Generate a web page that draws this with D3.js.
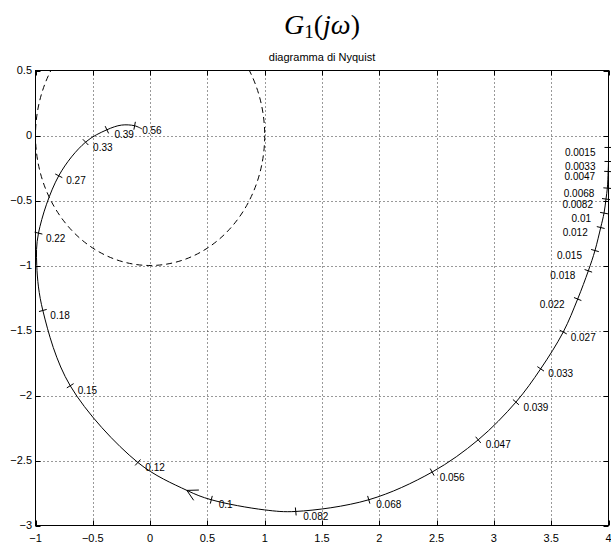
<!DOCTYPE html>
<html lang="it">
<head>
<meta charset="UTF-8">
<title>G1(jw) - diagramma di Nyquist</title>
<script src="https://cdnjs.cloudflare.com/ajax/libs/d3/7.8.5/d3.min.js"></script>
<style>
  body { margin: 0; background: #fff; }
</style>
</head>
<body>
<div id="chart"></div>
<script>
    var width = 611;
    var height = 543;

    // axis ticks
    var xTicks = [-1, -0.5, 0, 0.5, 1, 1.5, 2, 2.5, 3, 3.5, 4];
    var xTickLabels = ["\u22121", "\u22120.5", "0", "0.5", "1", "1.5", "2", "2.5", "3", "3.5", "4"];
    var yTicks = [0.5, 0, -0.5, -1, -1.5, -2, -2.5, -3];
    var yTickLabels = ["0.5", "0", "\u22120.5", "\u22121", "\u22121.5", "\u22122", "\u22122.5", "\u22123"];

    // frequency marks
    var omegaLabels = ["0.0015", "0.0033", "0.0047", "0.0068", "0.0082", "0.01", "0.012", "0.015",
                       "0.018", "0.022", "0.027", "0.033", "0.039", "0.047", "0.056", "0.068",
                       "0.082", "0.1", "0.12", "0.15", "0.18", "0.22", "0.27", "0.33", "0.39", "0.56"];
    var omegaRe = [4.0, 4.0, 3.997, 3.99, 3.978, 3.961, 3.932, 3.882,
                   3.824, 3.731, 3.605, 3.408, 3.192, 2.863, 2.461, 1.908,
                   1.271, 0.534, -0.107, -0.697, -0.936, -0.974, -0.797, -0.563, -0.377, -0.135];
    var omegaIm = [-0.092, -0.2, -0.277, -0.405, -0.489, -0.597, -0.708, -0.885,
                   -1.041, -1.258, -1.512, -1.795, -2.051, -2.341, -2.589, -2.802,
                   -2.892, -2.802, -2.515, -1.925, -1.346, -0.751, -0.31, -0.051, 0.044, 0.075];

    // points along the Nyquist curve, in order of increasing frequency
    var curveRe = [4.0, 4.0, 4.0, 3.997, 3.99, 3.978, 3.961, 3.932, 3.882,
                   3.824, 3.731, 3.605, 3.408, 3.192, 2.863, 2.461, 1.908,
                   1.271, 1.0, 0.534, 0.321, -0.107, -0.697, -0.936, -0.989,
                   -0.974, -0.797, -0.563, -0.377, -0.25, -0.135, -0.07];
    var curveIm = [0.0, -0.092, -0.2, -0.277, -0.405, -0.489, -0.597, -0.708, -0.885,
                   -1.041, -1.258, -1.512, -1.795, -2.051, -2.341, -2.589, -2.802,
                   -2.892, -2.88, -2.802, -2.73, -2.515, -1.925, -1.346, -1.0,
                   -0.751, -0.31, -0.051, 0.044, 0.08, 0.075, 0.05];

    // direction arrow position on the curve
    var arrowRe = 0.321;
    var arrowIm = -2.73;

    var x = d3.scaleLinear().domain([-1, 4]).range([35.5, 608.5]);
    var y = d3.scaleLinear().domain([-3, 0.5]).range([525.5, 70.5]);

    var svg = d3.select("#chart")
        .append("svg")
        .attr("width", width)
        .attr("height", height)
        .style("font-family", "'Liberation Sans', Arial, sans-serif");

    svg.append("rect")
        .attr("width", width)
        .attr("height", height)
        .attr("fill", "#fff");

    svg.append("clipPath").attr("id", "plotclip")
        .append("rect")
        .attr("x", x(-1)).attr("y", y(0.5))
        .attr("width", x(4) - x(-1)).attr("height", y(-3) - y(0.5));

    // grid
    var grid = svg.append("g")
        .attr("stroke", "#333")
        .attr("stroke-width", 1)
        .attr("stroke-dasharray", "1,3");

    grid.selectAll("line.gx")
        .data(xTicks.slice(1, -1))
        .enter().append("line")
        .attr("x1", function(d) { return Math.round(x(d)) + 0.5; })
        .attr("x2", function(d) { return Math.round(x(d)) + 0.5; })
        .attr("y1", y(0.5))
        .attr("y2", y(-3));

    grid.selectAll("line.gy")
        .data(yTicks.slice(1, -1))
        .enter().append("line")
        .attr("y1", function(d) { return Math.round(y(d)) + 0.5; })
        .attr("y2", function(d) { return Math.round(y(d)) + 0.5; })
        .attr("x1", x(-1))
        .attr("x2", x(4));

    // unit circle (dashed)
    svg.append("ellipse")
        .attr("clip-path", "url(#plotclip)")
        .attr("cx", x(0))
        .attr("cy", y(0))
        .attr("rx", x(1) - x(0))
        .attr("ry", y(0) - y(1))
        .attr("fill", "none")
        .attr("stroke", "#000")
        .attr("stroke-width", 1)
        .attr("stroke-dasharray", "6,4");

    // Nyquist curve
    var pts = curveRe.map(function(r, i) { return [r, curveIm[i]]; });
    var line = d3.line()
        .x(function(d) { return x(d[0]); })
        .y(function(d) { return y(d[1]); })
        .curve(d3.curveCatmullRom.alpha(0.5));

    svg.append("path")
        .datum(pts)
        .attr("clip-path", "url(#plotclip)")
        .attr("d", line)
        .attr("fill", "none")
        .attr("stroke", "#000")
        .attr("stroke-width", 1);

    function tangentAt(re, im) {
        var idx = 0, best = Infinity;
        pts.forEach(function(p, i) {
            var dd = Math.abs(p[0] - re) + Math.abs(p[1] - im);
            if (dd < best) { best = dd; idx = i; }
        });
        var a = pts[Math.max(0, idx - 1)], b = pts[Math.min(pts.length - 1, idx + 1)];
        var dx = x(b[0]) - x(a[0]), dy = y(b[1]) - y(a[1]);
        var len = Math.sqrt(dx * dx + dy * dy);
        return [dx / len, dy / len];
    }

    // frequency ticks and labels
    var marks = svg.append("g");
    omegaLabels.forEach(function(lab, i) {
        var px = x(omegaRe[i]), py = y(omegaIm[i]);
        var t = tangentAt(omegaRe[i], omegaIm[i]);
        var nx = -t[1] * 4, ny = t[0] * 4;
        marks.append("line")
            .attr("x1", px - nx).attr("y1", py - ny)
            .attr("x2", px + nx).attr("y2", py + ny)
            .attr("stroke", "#000")
            .attr("stroke-width", 1);
        var left = parseFloat(lab) <= 0.022;
        marks.append("text")
            .attr("x", left ? px - 13 : px + 7.5)
            .attr("y", py + 5)
            .attr("dy", "0.35em")
            .attr("text-anchor", left ? "end" : "start")
            .attr("font-size", 10)
            .attr("fill", "#000")
            .text(lab);
    });

    // arrow showing direction of increasing frequency
    var at = tangentAt(arrowRe, arrowIm);
    var ax = x(arrowRe), ay = y(arrowIm);
    [-0.5, 0.5].forEach(function(ang) {
        var c = Math.cos(ang), s = Math.sin(ang);
        var bx = -at[0], by = -at[1];
        var rx = bx * c - by * s, ry = bx * s + by * c;
        svg.append("line")
            .attr("x1", ax).attr("y1", ay)
            .attr("x2", ax + rx * 12).attr("y2", ay + ry * 12)
            .attr("stroke", "#000")
            .attr("stroke-width", 1);
    });

    // frame and axis ticks
    svg.append("rect")
        .attr("x", x(-1)).attr("y", y(0.5))
        .attr("width", x(4) - x(-1)).attr("height", y(-3) - y(0.5))
        .attr("fill", "none")
        .attr("stroke", "#000")
        .attr("stroke-width", 1);

    var ticks = svg.append("g").attr("stroke", "#000").attr("stroke-width", 1);
    xTicks.forEach(function(d) {
        var px = Math.round(x(d)) + 0.5;
        ticks.append("line").attr("x1", px).attr("x2", px).attr("y1", y(-3)).attr("y2", y(-3) - 5);
        ticks.append("line").attr("x1", px).attr("x2", px).attr("y1", y(0.5)).attr("y2", y(0.5) + 5);
    });
    yTicks.forEach(function(d) {
        var py = Math.round(y(d)) + 0.5;
        ticks.append("line").attr("y1", py).attr("y2", py).attr("x1", x(-1)).attr("x2", x(-1) + 5);
        ticks.append("line").attr("y1", py).attr("y2", py).attr("x1", x(4)).attr("x2", x(4) - 5);
    });

    svg.selectAll("text.xl")
        .data(xTicks)
        .enter().append("text")
        .attr("x", function(d) { return x(d); })
        .attr("y", 538)
        .attr("dy", "0.35em")
        .attr("text-anchor", "middle")
        .attr("font-size", 11)
        .text(function(d, i) { return xTickLabels[i]; });

    svg.selectAll("text.yl")
        .data(yTicks)
        .enter().append("text")
        .attr("x", 32)
        .attr("y", function(d) { return y(d); })
        .attr("dy", "0.35em")
        .attr("text-anchor", "end")
        .attr("font-size", 11)
        .text(function(d, i) { return yTickLabels[i]; });

    // titles
    var title = svg.append("text")
        .attr("x", (x(-1) + x(4)) / 2)
        .attr("y", 34)
        .attr("text-anchor", "middle")
        .attr("font-family", "'Liberation Serif', 'DejaVu Serif', serif")
        .attr("font-size", 28);
    title.append("tspan").attr("font-style", "italic").text("G");
    title.append("tspan").attr("font-size", 19).attr("dy", 4).text("1");
    title.append("tspan").attr("dy", -4).text("(");
    title.append("tspan").attr("font-style", "italic").text("j\u03c9");
    title.append("tspan").text(")");

    svg.append("text")
        .attr("x", (x(-1) + x(4)) / 2)
        .attr("y", 61)
        .attr("text-anchor", "middle")
        .attr("font-size", 11)
        .text("diagramma di Nyquist");
</script>
</body>
</html>
